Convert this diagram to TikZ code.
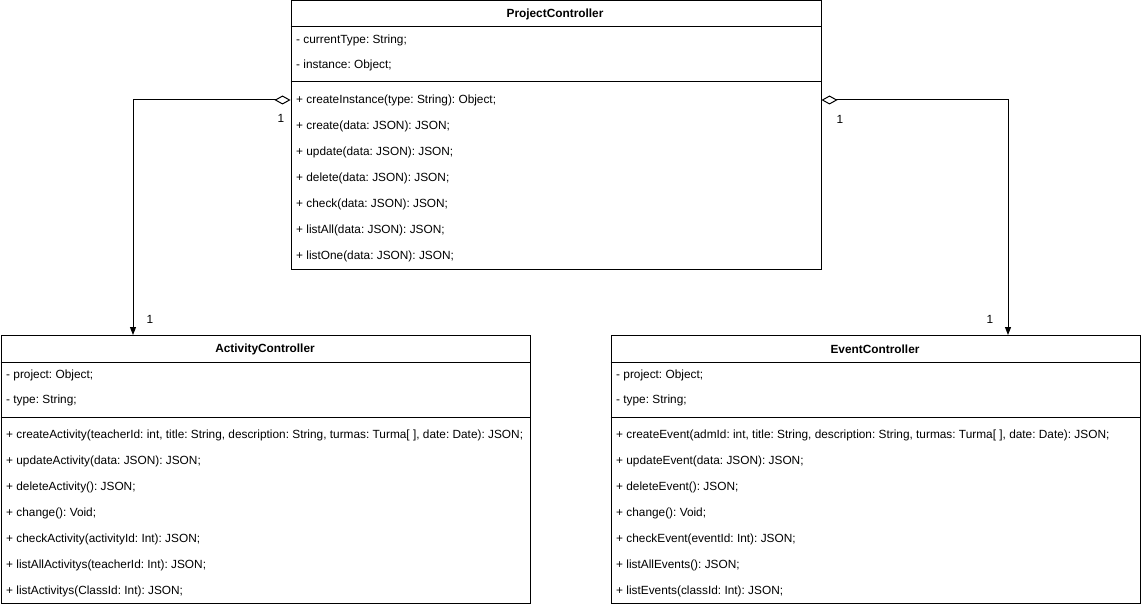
\documentclass[tikz,border=0pt]{standalone}
\usepackage{fontspec}
\setmainfont{Liberation Sans}
\usetikzlibrary{arrows.meta}
\frenchspacing
\begin{document}
\begin{tikzpicture}[x=1pt,y=-1pt,
  box/.style={draw,line width=1pt,anchor=north west,inner sep=0pt},
  txt/.style={anchor=west,inner sep=0pt,font=\fontsize{11.85}{14}\selectfont\frenchspacing},
  ttl/.style={inner sep=0pt,font=\fontsize{11.85}{14}\selectfont\bfseries},
  lbl/.style={inner sep=0pt,font=\fontsize{11.85}{14}\selectfont},
  sep/.style={line width=1pt},
  agg/.style={line width=1pt,{Diamond[open,length=16pt,width=9pt]}-{Triangle[length=8pt,width=6pt]}}]
\useasboundingbox (0,0) rectangle (1141,607);
% ProjectController
\node[box,minimum width=530pt,minimum height=268pt] (pc) at (290.5,0.5) {};
\draw[sep] (290.5,27) -- (820.5,27);
\draw[sep] (290.5,82) -- (820.5,82);
\node[ttl] (pct) at (555,14.5) {ProjectController};
\node[txt] (pa1) at (296,40.5) {- currentType: String;};
\node[txt] (pa2) at (296,65.5) {- instance: Object;};
\node[txt] (pm1) at (296,100.5) {+ createInstance(type: String): Object;};
\node[txt] (pm2) at (296,126.5) {+ create(data: JSON): JSON;};
\node[txt] (pm3) at (296,152.5) {+ update(data: JSON): JSON;};
\node[txt] (pm4) at (296,178.5) {+ delete(data: JSON): JSON;};
\node[txt] (pm5) at (296,204.5) {+ check(data: JSON): JSON;};
\node[txt] (pm6) at (296,230.5) {+ listAll(data: JSON): JSON;};
\node[txt] (pm7) at (296,256.5) {+ listOne(data: JSON): JSON;};
% ActivityController
\node[box,minimum width=529pt,minimum height=268pt] (ac) at (0.5,335) {};
\draw[sep] (0.5,362) -- (529.5,362);
\node[ttl] (act) at (265,349.5) {ActivityController};
\node[txt] (aa1) at (6,375.5) {- project: Object;};
\node[txt] (aa2) at (6,400.5) {- type: String;};
\draw[sep] (0.5,417) -- (529.5,417);
\node[txt] (am1) at (6,435.5) {+ createActivity(teacherId: int, title: String, description: String, turmas: Turma[ ], date: Date): JSON;};
\node[txt] (am2) at (6,461.5) {+ updateActivity(data: JSON): JSON;};
\node[txt] (am3) at (6,487.5) {+ deleteActivity(): JSON;};
\node[txt] (am4) at (6,513.5) {+ change(): Void;};
\node[txt] (am5) at (6,539.5) {+ checkActivity(activityId: Int): JSON;};
\node[txt] (am6) at (6,565.5) {+ listAllActivitys(teacherId: Int): JSON;};
\node[txt] (am7) at (6,591.5) {+ listActivitys(ClassId: Int): JSON;};
% EventController
\node[box,minimum width=529pt,minimum height=268pt] (ec) at (610.5,335) {};
\draw[sep] (610.5,362) -- (1139.5,362);
\node[ttl] (ect) at (875,349.5) {EventController};
\node[txt] (ea1) at (616,375.5) {- project: Object;};
\node[txt] (ea2) at (616,400.5) {- type: String;};
\draw[sep] (610.5,417) -- (1139.5,417);
\node[txt] (em1) at (616,435.5) {+ createEvent(admId: int, title: String, description: String, turmas: Turma[ ], date: Date): JSON;};
\node[txt] (em2) at (616,461.5) {+ updateEvent(data: JSON): JSON;};
\node[txt] (em3) at (616,487.5) {+ deleteEvent(): JSON;};
\node[txt] (em4) at (616,513.5) {+ change(): Void;};
\node[txt] (em5) at (616,539.5) {+ checkEvent(eventId: Int): JSON;};
\node[txt] (em6) at (616,565.5) {+ listAllEvents(): JSON;};
\node[txt] (em7) at (616,591.5) {+ listEvents(classId: Int): JSON;};
% connectors
\draw[agg] ([yshift=35pt]pc.west) -| ([xshift=-132.5pt]ac.north);
\draw[agg] ([yshift=35pt]pc.east) -| ([xshift=132.5pt]ec.north);
\node[lbl] (l1) at (281,118.5) {1};
\node[lbl] (l2) at (150,319.5) {1};
\node[lbl] (l3) at (840,119.5) {1};
\node[lbl] (l4) at (990,319.5) {1};
\end{tikzpicture}
\end{document}
